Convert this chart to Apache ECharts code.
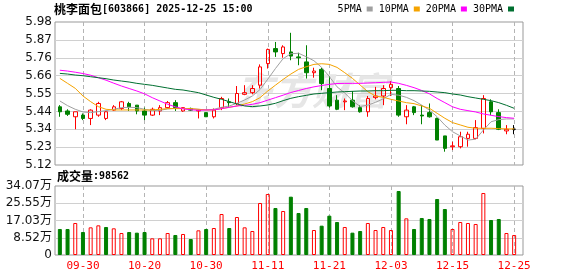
<!DOCTYPE html>
<html><head><meta charset="utf-8">
<script src="https://cdn.jsdelivr.net/npm/echarts@6/dist/echarts.min.js"></script>
<style>html,body{margin:0;padding:0;background:#fff}#c{width:578px;height:276px}</style>
</head><body><div id="c"></div>
<script>
const dates = ['09-25','09-26','09-29','09-30','10-09','10-10','10-13','10-14','10-15','10-16',
  '10-17','10-20','10-21','10-22','10-23','10-24','10-27','10-28','10-29','10-30',
  '10-31','11-03','11-04','11-05','11-06','11-07','11-10','11-11','11-12','11-13',
  '11-14','11-17','11-18','11-19','11-20','11-21','11-24','11-25','11-26','11-27',
  '11-28','12-01','12-02','12-03','12-04','12-05','12-08','12-09','12-10','12-11',
  '12-12','12-15','12-16','12-17','12-18','12-19','12-22','12-23','12-24','12-25'];
// open, close, low, high
const candles = [
  [5.47,5.44,5.41,5.48],[5.445,5.425,5.415,5.455],[5.41,5.44,5.335,5.44],[5.42,5.40,5.39,5.43],
  [5.40,5.45,5.36,5.455],[5.42,5.49,5.41,5.50],[5.40,5.44,5.39,5.445],[5.45,5.47,5.445,5.48],
  [5.46,5.50,5.45,5.505],[5.49,5.47,5.445,5.50],[5.48,5.445,5.425,5.48],[5.445,5.42,5.39,5.465],
  [5.42,5.455,5.415,5.465],[5.445,5.465,5.42,5.48],[5.465,5.495,5.46,5.505],[5.495,5.465,5.445,5.51],
  [5.445,5.465,5.44,5.465],[5.46,5.45,5.445,5.465],[5.445,5.45,5.40,5.455],[5.435,5.41,5.41,5.435],
  [5.41,5.45,5.40,5.46],[5.465,5.52,5.45,5.53],[5.50,5.495,5.465,5.52],[5.49,5.55,5.48,5.595],
  [5.545,5.555,5.54,5.60],[5.555,5.58,5.545,5.60],[5.60,5.71,5.58,5.725],[5.73,5.815,5.70,5.82],
  [5.82,5.80,5.77,5.86],[5.79,5.83,5.765,5.84],[5.80,5.775,5.75,5.915],[5.77,5.765,5.72,5.795],
  [5.74,5.675,5.64,5.84],[5.675,5.685,5.645,5.705],[5.695,5.61,5.57,5.705],[5.58,5.475,5.465,5.655],
  [5.51,5.455,5.45,5.54],[5.50,5.505,5.45,5.52],[5.51,5.47,5.465,5.565],[5.465,5.44,5.435,5.48],
  [5.44,5.52,5.41,5.535],[5.525,5.535,5.515,5.59],[5.535,5.58,5.48,5.60],[5.585,5.605,5.535,5.625],
  [5.58,5.42,5.41,5.595],[5.41,5.45,5.365,5.48],[5.47,5.435,5.42,5.475],[5.42,5.415,5.365,5.48],
  [5.435,5.41,5.405,5.49],[5.40,5.27,5.27,5.405],[5.295,5.22,5.20,5.295],[5.23,5.235,5.21,5.26],
  [5.23,5.29,5.22,5.32],[5.28,5.305,5.23,5.32],[5.28,5.345,5.275,5.39],[5.34,5.52,5.31,5.54],
  [5.50,5.44,5.42,5.515],[5.435,5.335,5.33,5.455],[5.325,5.335,5.305,5.36],[5.335,5.335,5.305,5.36]];
const ma5 = [5.505,5.477,5.455,5.439,5.435,5.441,5.447,5.455,5.465,5.467,5.465,5.455,5.447,5.449,5.457,
  5.461,5.459,5.457,5.455,5.451,5.455,5.467,5.475,5.491,5.511,5.535,5.574,5.636,5.70,5.76,
  5.789,5.792,5.771,5.747,5.707,5.652,5.59,5.553,5.507,5.472,5.48,5.497,5.518,5.545,5.54,
  5.527,5.507,5.48,5.45,5.41,5.36,5.32,5.295,5.27,5.275,5.33,5.38,5.393,5.397,5.397];
const ma10 = [5.641,5.611,5.581,5.535,5.501,5.471,5.455,5.451,5.451,5.451,5.451,5.451,5.451,5.455,5.459,
  5.459,5.459,5.459,5.455,5.451,5.451,5.459,5.467,5.475,5.487,5.501,5.525,5.565,5.60,5.635,5.667,
  5.695,5.711,5.725,5.729,5.725,5.707,5.675,5.641,5.601,5.561,5.535,5.527,5.515,5.505,5.495,5.489,
  5.475,5.461,5.431,5.401,5.375,5.361,5.347,5.341,5.341,5.341,5.339,5.337,5.337];
const ma20 = [5.69,5.685,5.678,5.67,5.66,5.645,5.63,5.612,5.595,5.58,5.565,5.548,5.525,5.505,5.485,5.47,5.458,5.452,5.449,
  5.451,5.451,5.459,5.467,5.475,5.479,5.485,5.495,5.51,5.525,5.54,5.556,
  5.568,5.58,5.59,5.598,5.605,5.61,5.611,5.611,5.611,5.613,5.615,5.617,5.619,5.611,5.599,5.585,
  5.568,5.548,5.52,5.495,5.47,5.455,5.447,5.439,5.427,5.419,5.411,5.405,5.401];
const ma30 = [5.671,5.667,5.661,5.657,5.651,5.645,5.639,5.631,5.625,5.619,5.611,5.605,5.599,5.591,5.583,5.575,
  5.571,5.563,5.555,5.541,5.527,5.515,5.501,5.487,5.475,5.471,5.475,5.481,5.491,5.507,5.521,
  5.531,5.539,5.547,5.551,5.555,5.559,5.561,5.563,5.565,5.565,5.567,5.567,5.569,5.569,5.567,5.567,
  5.565,5.563,5.559,5.555,5.547,5.541,5.531,5.523,5.515,5.507,5.495,5.479,5.461];
const volumes = [128400,128400,158000,113600,136600,146500,138300,131700,108600,113600,
  110300,113600,82300,82300,108600,98800,103700,79000,121800,128400,
  133300,202400,133300,187600,136600,118500,256800,301200,232100,217300,
  288000,207400,232100,123400,144800,194200,162900,138300,110300,118500,
  158000,123400,138300,123400,316000,181000,128400,182700,177800,276500,
  227100,128400,162900,158000,153100,306100,172800,177800,108600,98562];
const volDir = 'ggrgrrgrrg' + 'ggrrrgrgrg' + 'rrgrrrrrgr' + 'gggrgggrgg' + 'rrrrgrgggg' + 'grrrrrggrr';
const priceTicks = ['5.12','5.23','5.34','5.44','5.55','5.66','5.76','5.87','5.98'];
const volTicks = ['0','8.52万','17.03万','25.55万','34.07万'];
const legendNames = ['5PMA','10PMA','20PMA','30PMA'];
const maColors = ['#a0a0a0','#f5a300','#ff00ff','#006f30'];

const RED = '#ff0000', GREEN = '#008000';
const MONO = "'DejaVu Sans Mono', monospace";
const CJK = "'Noto Sans CJK SC', sans-serif";
const isLabel = (i) => i % 8 === 3;

const DATA_LEFT = 56, DATA_WIDTH = 462;
const BAND = DATA_WIDTH / dates.length;
const TICK_LEFT = DATA_LEFT + BAND / 2, TICK_WIDTH = DATA_WIDTH - BAND;
const MAIN_TOP = 22, MAIN_H = 143, VOL_TOP = 186, VOL_H = 69;
const DASH = { color: '#b4b4b4', type: [4, 3], width: 1 };

const chart = echarts.init(document.getElementById('c'), null, { renderer: 'canvas' });
const maSeries = [ma5, ma10, ma20, ma30].map((d, k) => ({
  name: legendNames[k], type: 'line', xAxisIndex: 0, yAxisIndex: 0, data: d,
  symbol: 'none', smooth: false, silent: true,
  lineStyle: { color: maColors[k], width: 1 }, itemStyle: { color: maColors[k] }, z: 3
}));
const tickAxis = (gi) => ({ type: 'category', gridIndex: gi, data: dates, boundaryGap: false,
  axisLine: { show: false }, axisTick: { show: false },
  axisLabel: { show: false, interval: isLabel },
  splitLine: { show: true, interval: isLabel, lineStyle: DASH } });

chart.setOption({
  animation: false,
  backgroundColor: '#fff',
  title: [
    { text: '{c|桃李面包}{a|[603866] 2025-12-25 15:00}', left: 54, top: 3, padding: 0,
      textStyle: { rich: { c: { fontFamily: CJK, fontSize: 12, color: '#000' }, a: { fontFamily: MONO, fontSize: 10, color: '#000' } } } },
    { text: '{c|成交量}{a|:98562}', left: 57, top: 170, padding: 0,
      textStyle: { rich: { c: { fontFamily: CJK, fontSize: 12, color: '#000' }, a: { fontFamily: MONO, fontSize: 10, color: '#000' } } } }
  ],
  legend: { data: legendNames, right: 64, top: 4, padding: 0, itemWidth: 6, itemHeight: 5, itemGap: 6,
    align: 'right', icon: 'rect', selectedMode: false,
    textStyle: { fontFamily: MONO, fontSize: 10, color: '#000' } },
  graphic: [{ type: 'text', left: 236, top: 72, silent: true, z: 1,
    style: { text: '东方财富', fontSize: 38, fontWeight: 'bold', fontStyle: 'italic', fontFamily: 'Noto Sans CJK SC', fill: '#e6e6e6' } }],
  grid: [
    { left: DATA_LEFT, width: DATA_WIDTH, top: MAIN_TOP, height: MAIN_H },
    { left: 55, width: 468, top: MAIN_TOP, height: MAIN_H, show: true, borderColor: '#999', borderWidth: 1, backgroundColor: 'transparent' },
    { left: DATA_LEFT, width: DATA_WIDTH, top: VOL_TOP, height: VOL_H },
    { left: 55, width: 468, top: VOL_TOP, height: VOL_H, show: true, borderColor: '#999', borderWidth: 1, backgroundColor: 'transparent' },
    { left: TICK_LEFT, width: TICK_WIDTH, top: MAIN_TOP, height: MAIN_H },
    { left: TICK_LEFT, width: TICK_WIDTH, top: VOL_TOP, height: VOL_H }
  ],
  xAxis: [
    { type: 'category', gridIndex: 0, data: dates, boundaryGap: true,
      axisLine: { show: false }, axisTick: { show: false }, axisLabel: { show: false }, splitLine: { show: false } },
    { type: 'value', gridIndex: 1, min: 0, max: 1, show: false },
    { type: 'category', gridIndex: 2, data: dates, boundaryGap: true,
      axisLine: { show: false }, axisTick: { show: false },
      axisLabel: { show: true, interval: isLabel, color: RED, fontFamily: MONO, fontSize: 11, margin: 6 },
      splitLine: { show: false } },
    { type: 'value', gridIndex: 3, min: 0, max: 1, show: false },
    tickAxis(4),
    tickAxis(5)
  ],
  yAxis: [
    { type: 'value', gridIndex: 0, min: 5.12, max: 5.98, show: false },
    { type: 'value', gridIndex: 1, min: 0, max: priceTicks.length - 1, interval: 1,
      axisLine: { show: false }, axisTick: { show: false },
      axisLabel: { formatter: (v) => priceTicks[v], color: '#111', fontFamily: "'DejaVu Sans', sans-serif", fontSize: 12, margin: 3 },
      splitLine: { show: true, showMinLine: false, showMaxLine: false, lineStyle: { color: '#d0d0d0', width: 1 } } },
    { type: 'value', gridIndex: 2, min: 0, max: 340700, show: false },
    { type: 'value', gridIndex: 3, min: 0, max: volTicks.length - 1, interval: 1,
      axisLine: { show: false }, axisTick: { show: false },
      axisLabel: { formatter: (v) => volTicks[v], color: '#111', fontFamily: "'DejaVu Sans', 'Noto Sans CJK SC', sans-serif", fontSize: 12, margin: 3 },
      splitLine: { show: true, showMinLine: false, showMaxLine: false, lineStyle: { color: '#d0d0d0', width: 1 } } },
    { type: 'value', gridIndex: 4, min: 0, max: 1, show: false },
    { type: 'value', gridIndex: 5, min: 0, max: 1, show: false }
  ],
  series: [
    { type: 'candlestick', xAxisIndex: 0, yAxisIndex: 0, barWidth: 4, silent: true, z: 2,
      data: candles.map((d) => d[0] === d[1]
        ? { value: d, itemStyle: { color: '#000', color0: '#000', borderColor: '#000', borderColor0: '#000', borderColorDoji: '#000' } }
        : d),
      itemStyle: { color: 'rgba(255,255,255,0)', color0: GREEN, borderColor: RED, borderColor0: GREEN, borderColorDoji: '#000', borderWidth: 1 } },
    ...maSeries,
    { type: 'bar', xAxisIndex: 2, yAxisIndex: 2, barWidth: 4, silent: true,
      data: volumes.map((v, i) => ({ value: v,
        itemStyle: volDir[i] === 'r'
          ? { color: 'rgba(255,255,255,0)', borderColor: RED, borderWidth: 1 }
          : { color: GREEN, borderColor: GREEN, borderWidth: 1 } })) },
    { type: 'line', xAxisIndex: 4, yAxisIndex: 4, data: [], silent: true },
    { type: 'line', xAxisIndex: 5, yAxisIndex: 5, data: [], silent: true }
  ]
});
</script></body></html>
